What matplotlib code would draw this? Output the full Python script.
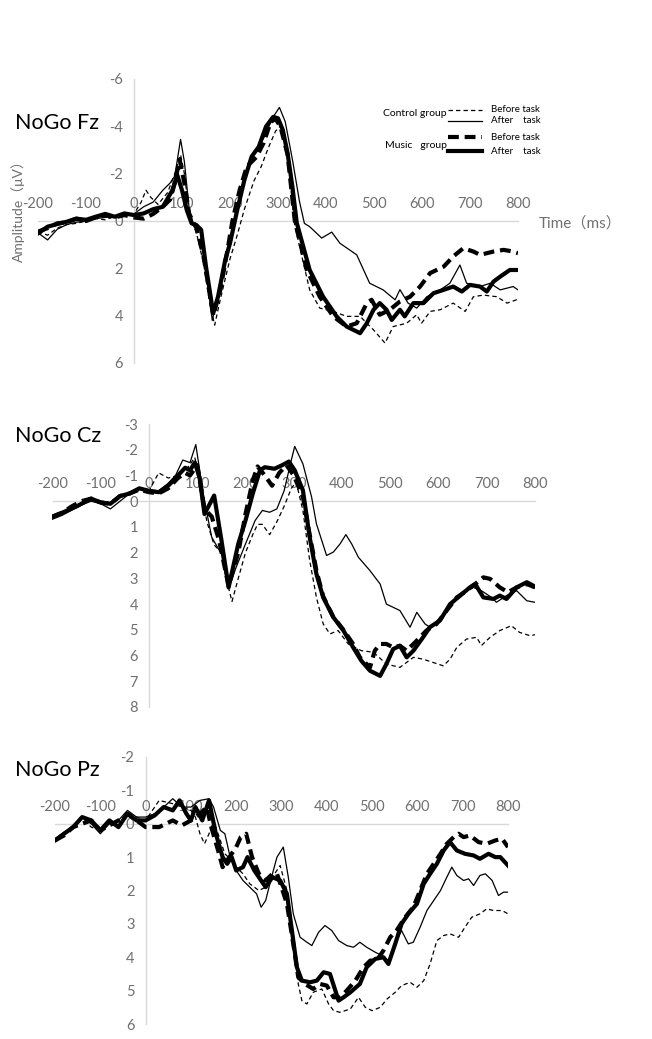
import matplotlib
matplotlib.use("Agg")
import matplotlib.pyplot as plt
from matplotlib.lines import Line2D

plt.rcParams['font.family'] = ['Lato', 'Noto Sans CJK SC', 'DejaVu Sans']
plt.rcParams['axes.unicode_minus'] = False

W, H = 652, 1039
GRID = '#d9d9d9'
TICK = '#707070'

xticks = list(range(-200, 801, 100))

# ---- NoGo Fz ----
fz_ctrl_pre_t = [-200,-180,-160,-140,-120,-100,-80,-60,-40,-20,0,15,25,35,50,70,85,97,105,115,130,145,158,168,180,200,215,230,250,265,280,295,305,315,325,333,353,366,387,415,443,471,499,523,540,568,589,599,617,638,665,690,707,728,756,777,797,800]
fz_ctrl_pre_v = [0.45,0.6,0.3,0.15,0.1,0.0,-0.1,-0.05,-0.2,-0.25,-0.3,-0.8,-1.3,-1.0,-0.7,-1.2,-2.0,-2.8,-2.0,-0.3,0.5,1.8,3.5,4.4,3.3,1.6,0.6,-0.5,-1.7,-2.3,-3.1,-3.8,-4.0,-3.3,-1.8,0.0,1.79,2.91,3.68,3.82,4.03,4.03,4.6,5.16,4.46,4.32,3.96,4.32,3.82,3.75,3.47,3.82,3.2,3.13,3.2,3.47,3.33,3.4]
fz_ctrl_post_t = [-200,-180,-160,-140,-120,-100,-80,-60,-40,-20,0,20,40,60,75,85,97,105,115,125,140,150,163,175,190,200,215,230,250,270,290,303,315,330,345,355,366,391,412,429,464,491,519,544,554,571,589,610,638,658,679,693,721,742,763,790,800]
fz_ctrl_post_v = [0.5,0.8,0.35,0.15,0.05,0.0,-0.1,-0.15,-0.2,-0.25,-0.3,-0.6,-0.8,-1.3,-1.6,-1.9,-3.45,-2.5,-0.5,0.2,0.3,1.8,4.2,3.2,1.6,0.9,-0.6,-1.8,-2.9,-3.5,-4.4,-4.8,-4.2,-2.6,-0.8,0.1,0.24,0.72,0.47,0.94,1.43,2.63,2.91,3.33,2.9,3.47,3.68,3.2,2.91,2.63,1.86,2.63,2.77,2.63,2.91,2.77,2.91]
fz_mus_pre_t = [-200,-180,-160,-140,-120,-100,-80,-60,-40,-20,0,20,40,60,75,85,95,105,115,130,145,165,180,195,205,220,235,255,270,285,295,305,320,335,360,387,415,443,464,485,495,512,533,554,575,596,617,645,665,686,707,721,749,770,790,800]
fz_mus_pre_v = [0.45,0.3,0.1,0.05,-0.1,0.0,-0.15,-0.25,-0.15,-0.25,-0.15,-0.1,-0.3,-0.6,-0.9,-1.6,-2.6,-1.6,-0.3,0.3,1.5,4.0,2.9,1.2,0.0,-1.3,-2.3,-2.7,-3.3,-4.2,-4.3,-4.0,-2.8,0.0,2.07,3.2,4.03,4.46,4.32,3.47,3.33,3.96,3.75,3.4,3.2,2.77,2.2,1.93,1.5,1.15,1.29,1.43,1.29,1.22,1.29,1.36]
fz_mus_post_t = [-200,-180,-160,-140,-120,-100,-80,-60,-40,-20,0,20,40,60,80,90,100,110,120,130,140,150,165,175,190,200,215,230,245,260,275,290,300,310,320,330,339,366,394,422,443,471,485,499,512,526,537,554,564,582,603,624,645,665,683,700,721,735,749,763,783,800]
fz_mus_post_v = [0.52,0.24,0.13,0.03,-0.1,-0.05,-0.18,-0.3,-0.18,-0.32,-0.25,-0.32,-0.5,-0.6,-1.3,-1.95,-1.3,-0.46,0.1,0.17,0.38,1.93,3.9,3.2,1.65,0.94,-0.46,-1.73,-2.72,-3.14,-3.99,-4.4,-4.34,-3.85,-2.86,-1.45,0.07,2.07,3.2,4.03,4.46,4.74,4.32,3.75,3.47,3.75,4.18,3.75,4.03,3.47,3.47,3.05,2.91,2.77,2.98,2.7,2.77,2.98,2.56,2.35,2.07,2.07]

# ---- NoGo Cz ----
cz_ctrl_pre_t = [-200,-180,-160,-140,-120,-100,-80,-60,-40,-20,0,20,40,60,80,95,105,120,135,150,160,172,185,200,215,225,235,250,265,280,295,305,319,333,347,361,375,392,413,440,465,492,520,548,568,589,610,624,638,658,679,689,707,727,751,768,790,800]
cz_ctrl_pre_v = [0.6,0.45,0.3,0.1,-0.1,0.05,0.1,-0.2,-0.3,-0.5,-0.4,-1.1,-0.9,-1.0,-1.3,-1.7,-0.8,0.8,1.7,2.0,3.0,3.9,3.0,2.0,1.3,0.9,0.9,1.3,0.8,0.2,-0.5,-0.74,0.36,2.3,3.74,4.77,5.16,5.03,5.55,5.81,5.87,6.33,6.46,6.07,6.14,6.27,6.4,6.14,5.68,5.36,5.29,5.61,5.29,5.03,4.84,5.1,5.23,5.19]
cz_ctrl_post_t = [-200,-180,-160,-140,-120,-100,-80,-60,-40,-20,0,20,40,55,70,85,97,105,115,130,150,165,180,200,220,235,250,265,280,295,302,319,337,347,368,382,396,408,420,434,458,479,492,520,541,555,572,582,596,617,631,651,672,689,710,720,741,762,783,800]
cz_ctrl_post_v = [0.7,0.55,0.35,0.15,0.0,0.1,0.3,0.0,-0.3,-0.5,-0.45,-0.4,-0.7,-1.0,-1.6,-1.5,-2.2,-1.2,0.0,1.4,2.05,3.4,2.6,1.66,0.75,0.36,0.43,0.3,-0.4,-1.6,-2.13,-1.45,-0.16,0.88,2.11,1.98,1.66,1.3,1.66,2.18,2.7,3.22,4.0,4.25,4.9,4.32,4.77,4.9,4.77,4.25,3.87,3.54,3.35,3.48,3.74,3.93,3.67,3.48,3.87,3.93]
cz_mus_pre_t = [-200,-180,-160,-140,-120,-100,-80,-60,-40,-20,0,20,40,60,75,85,100,115,130,145,165,185,200,215,225,240,255,270,285,300,319,333,347,361,382,403,423,437,458,468,479,492,506,520,534,555,575,596,617,638,658,676,693,707,727,744,762,783,800]
cz_mus_pre_v = [0.6,0.45,0.2,0.0,-0.1,0.05,0.1,-0.2,-0.3,-0.45,-0.35,-0.3,-0.5,-0.9,-1.1,-1.0,-1.4,0.3,0.6,1.5,3.3,2.0,0.5,-0.8,-1.35,-1.0,-0.6,-1.1,-1.4,-1.0,-0.16,1.3,2.7,3.7,4.5,5.0,5.55,6.07,6.46,5.81,5.55,5.55,5.68,5.62,5.81,5.42,5.03,4.77,4.25,3.74,3.48,3.22,2.96,3.02,3.35,3.54,3.35,3.22,3.35]
cz_mus_post_t = [-200,-180,-150,-120,-100,-80,-60,-40,-20,0,20,40,60,75,85,95,105,115,135,150,165,185,200,215,230,240,260,275,290,302,319,333,347,361,382,403,423,440,458,479,492,506,520,534,548,568,582,603,624,645,665,676,693,714,727,741,762,783,800]
cz_mus_post_v = [0.6,0.45,0.2,-0.1,0.05,0.1,-0.2,-0.3,-0.5,-0.4,-0.35,-0.6,-1.0,-1.3,-1.2,-1.5,-0.9,0.5,-0.22,1.5,3.35,1.66,0.75,-0.29,-1.2,-1.32,-1.26,-1.39,-1.54,-1.2,-0.42,1.4,2.83,3.74,4.51,5.03,5.68,6.2,6.59,6.79,6.33,5.75,5.62,6.07,5.81,5.29,4.9,4.64,4.0,3.67,3.35,3.22,3.74,3.8,3.67,3.8,3.35,3.15,3.32]

# ---- NoGo Pz ----
pz_ctrl_pre_t = [-200,-180,-160,-140,-120,-100,-80,-60,-40,-20,0,30,60,100,110,120,130,140,150,160,175,190,200,215,230,250,265,280,297,312,326,337,345,356,370,389,404,415,429,452,470,485,500,518,533,551,565,584,599,614,628,643,658,672,691,705,720,738,753,768,787,800]
pz_ctrl_pre_v = [0.5,0.3,0.1,-0.15,0.1,0.2,0.0,-0.1,-0.3,-0.2,-0.1,-0.7,-0.6,-0.4,-0.2,0.3,0.6,0.3,-0.1,0.3,0.9,1.1,1.3,1.5,1.8,2.0,1.9,1.6,1.25,2.0,3.4,4.8,5.3,5.4,5.05,4.95,5.4,5.6,5.65,5.55,5.2,5.5,5.6,5.5,5.25,5.05,4.85,4.75,4.9,4.7,4.2,3.5,3.35,3.3,3.4,3.1,2.8,2.7,2.55,2.6,2.6,2.7]
pz_ctrl_post_t = [-200,-180,-160,-140,-120,-100,-80,-60,-40,-20,0,20,40,60,80,100,120,140,150,165,175,185,200,215,230,245,255,265,280,290,304,315,326,341,356,367,382,396,411,426,444,459,473,488,507,522,536,551,565,580,591,606,621,636,651,665,676,687,702,713,724,738,750,765,779,790,800]
pz_ctrl_post_v = [0.45,0.25,0.1,-0.2,0.0,0.3,0.0,-0.1,-0.4,-0.2,-0.2,-0.3,-0.5,-0.75,-0.5,-0.5,-0.7,-0.75,-0.5,0.2,0.3,0.9,1.4,1.7,1.9,2.1,2.5,2.3,1.5,1.0,0.7,1.6,2.7,3.4,3.55,3.65,3.25,3.05,3.2,3.5,3.65,3.7,3.55,3.7,3.85,3.95,4.1,3.6,3.2,3.6,3.55,3.1,2.6,2.3,2.0,1.6,1.3,1.55,1.7,1.65,1.85,1.55,1.5,1.7,2.15,2.05,2.05]
pz_mus_pre_t = [-200,-180,-160,-140,-120,-100,-80,-60,-40,-20,0,30,60,80,100,120,135,145,160,170,185,200,210,222,235,250,265,280,290,300,312,326,337,352,370,385,400,415,429,444,463,481,496,510,525,540,554,573,591,606,621,636,651,665,680,691,702,716,735,753,772,787,800]
pz_mus_pre_v = [0.5,0.35,0.1,0.0,-0.1,0.2,0.05,-0.1,-0.3,-0.1,0.1,0.1,-0.1,0.05,-0.1,-0.3,-0.5,0.1,0.8,1.3,1.0,0.7,0.4,0.3,1.0,1.5,1.7,1.5,1.5,1.9,2.4,3.6,4.6,4.8,4.95,4.8,4.85,5.2,5.2,5.0,4.7,4.3,4.1,4.1,3.8,3.4,3.2,2.8,2.5,2.0,1.5,1.2,0.9,0.6,0.4,0.3,0.4,0.35,0.55,0.6,0.5,0.45,0.7]
pz_mus_post_t = [-200,-180,-160,-140,-120,-100,-80,-60,-40,-20,0,20,40,60,75,90,100,110,125,140,155,170,180,190,200,215,225,240,255,265,280,297,312,322,334,345,363,378,393,407,426,437,452,473,488,507,525,536,551,565,580,599,614,628,643,658,672,687,705,724,738,757,772,783,800]
pz_mus_post_v = [0.5,0.3,0.1,-0.2,-0.1,0.2,-0.1,0.1,-0.3,-0.1,-0.1,-0.25,-0.5,-0.4,-0.7,-0.3,-0.1,-0.5,-0.1,-0.7,0.3,1.0,1.2,1.0,1.4,1.3,1.0,1.4,1.7,1.9,1.6,1.7,2.1,3.1,4.3,4.7,4.75,4.7,4.45,4.5,5.3,5.2,5.05,4.8,4.3,4.05,4.0,4.2,3.6,3.0,2.7,2.4,1.8,1.5,1.2,0.8,0.55,0.8,0.9,0.95,1.05,0.9,1.0,1.0,1.25]

styles = [
    dict(lw=0.9, ls=(0, (3.5, 2.5))),   # control before
    dict(lw=0.9, ls='-'),               # control after
    dict(lw=3.0, ls=(0, (2.6, 1.4))),   # music before
    dict(lw=3.0, ls='-'),               # music after
]

panels = [
    # title, title y(px), axes box (x0, x1, ytop, ybottom px), ylim, yticks, series
    ("NoGo Fz", 123, (38, 518, 79, 363), (6, -6), [-6, -4, -2, 0, 2, 4, 6],
     [(fz_ctrl_pre_t, fz_ctrl_pre_v), (fz_ctrl_post_t, fz_ctrl_post_v),
      (fz_mus_pre_t, fz_mus_pre_v), (fz_mus_post_t, fz_mus_post_v)]),
    ("NoGo Cz", 436, (52.5, 535, 424, 707), (8, -3), list(range(-3, 9)),
     [(cz_ctrl_pre_t, cz_ctrl_pre_v), (cz_ctrl_post_t, cz_ctrl_post_v),
      (cz_mus_pre_t, cz_mus_pre_v), (cz_mus_post_t, cz_mus_post_v)]),
    ("NoGo Pz", 770, (55, 508, 757, 1024), (6, -2), list(range(-2, 7)),
     [(pz_ctrl_pre_t, pz_ctrl_pre_v), (pz_ctrl_post_t, pz_ctrl_post_v),
      (pz_mus_pre_t, pz_mus_pre_v), (pz_mus_post_t, pz_mus_post_v)]),
]

fig = plt.figure(figsize=(W / 100, H / 100), dpi=100)

for title, ty, (x0, x1, yt, yb), ylim, yticks, series in panels:
    ax = fig.add_axes([x0 / W, 1 - yb / H, (x1 - x0) / W, (yb - yt) / H])
    ax.patch.set_alpha(0)
    for (t, v), st in zip(series, styles):
        ax.plot(t, v, color='black', linewidth=st['lw'], linestyle=st['ls'],
                solid_joinstyle='round', dash_capstyle='butt')
    ax.set_xlim(-200, 800)
    ax.set_ylim(*ylim)
    ax.set_xticks(xticks)
    ax.set_yticks(yticks)
    ax.xaxis.tick_top()
    ax.spines['left'].set_position(('data', 0))
    ax.spines['top'].set_position(('data', 0))
    ax.spines['right'].set_visible(False)
    ax.spines['bottom'].set_visible(False)
    for s in ('left', 'top'):
        ax.spines[s].set_color(GRID)
        ax.spines[s].set_linewidth(1.0)
        ax.spines[s].set_zorder(0)
    ax.tick_params(axis='x', length=0, pad=7, labelsize=10.5, labelcolor=TICK)
    ax.tick_params(axis='y', length=0, pad=8, labelsize=10.5, labelcolor=TICK)
    fig.text(15 / W, 1 - ty / H, title, fontsize=15.5, ha='left', va='center')

# axis titles (Fz panel)
fig.text(18 / W, 1 - 208 / H, "Amplitude（μV）", rotation=90, fontsize=10,
         color=TICK, ha='center', va='center')
fig.text(539 / W, 1 - 223 / H, "Time（ms）", fontsize=11, color=TICK,
         ha='left', va='center')

# legend
def fx(x):
    return x / W

def fy(y):
    return 1 - y / H

leg_rows = [(109.5, 0, "Before task"), (120.5, 1, "After    task"),
            (137, 2, "Before task"), (151, 3, "After    task")]
for y, k, label in leg_rows:
    st = styles[k]
    fig.add_artist(Line2D([fx(448), fx(482)], [fy(y), fy(y)], color='black',
                          linewidth=st['lw'], linestyle=st['ls'],
                          dash_capstyle='butt', transform=fig.transFigure))
    fig.text(fx(491), fy(y), label, fontsize=7, ha='left', va='center')
fig.text(fx(447), fy(114), "Control group", fontsize=7.5, ha='right', va='center')
fig.text(fx(447), fy(145), "Music   group", fontsize=7.5, ha='right', va='center')

fig.savefig("out.png", dpi=100)
